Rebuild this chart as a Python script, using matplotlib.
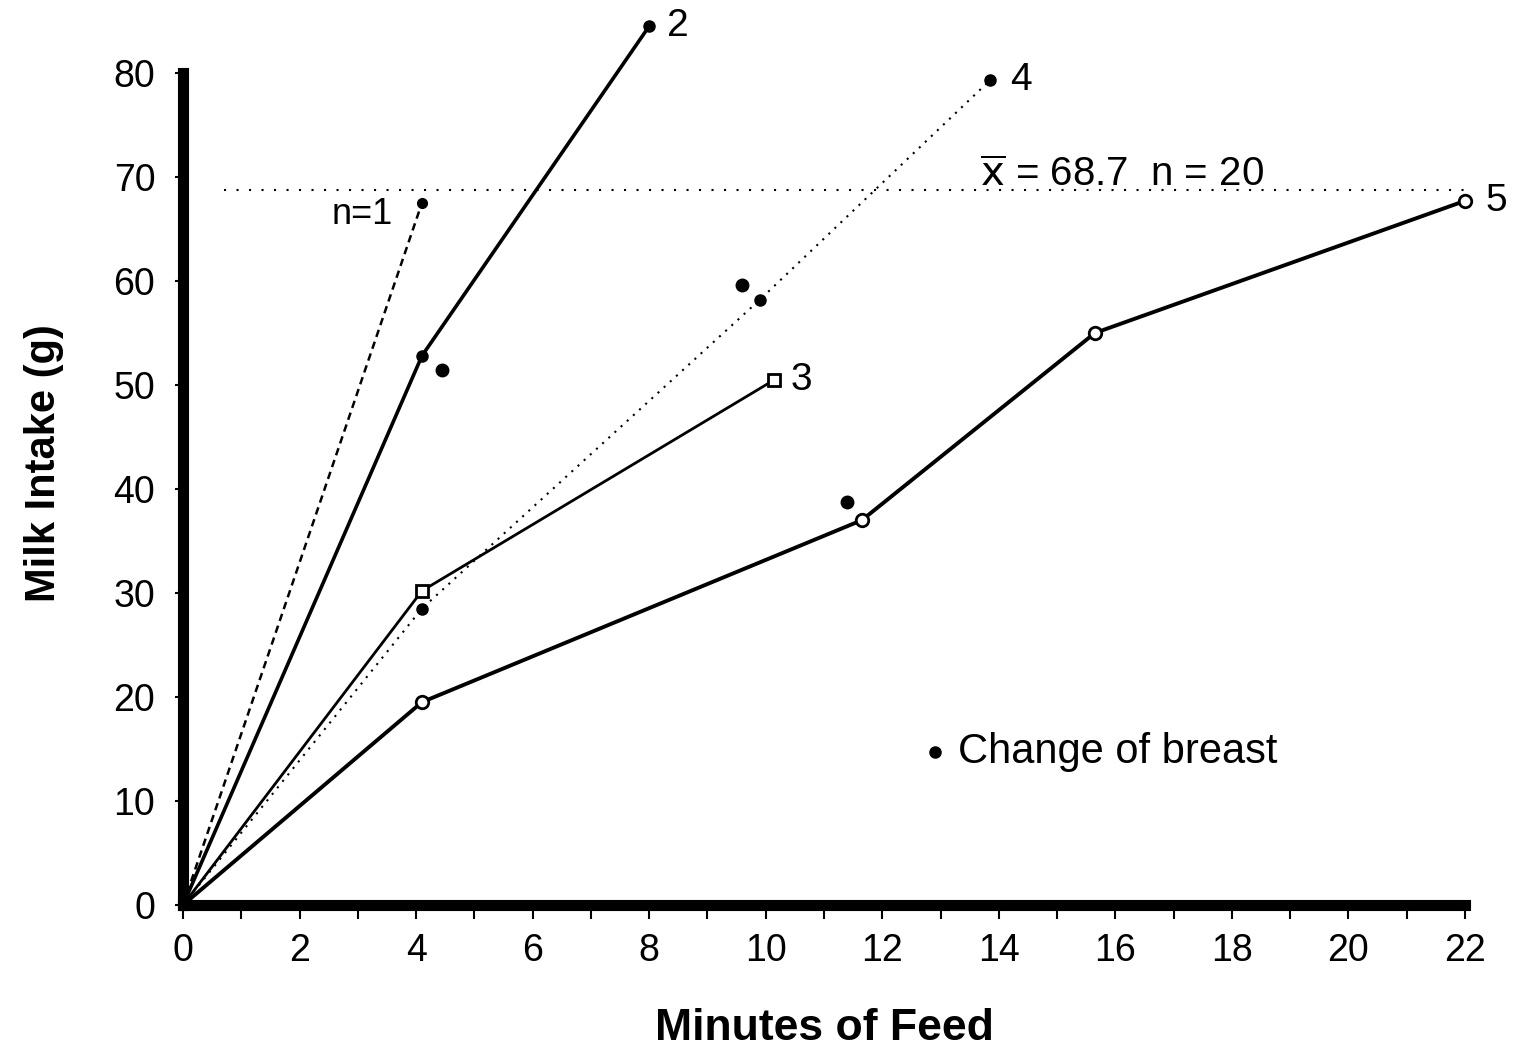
import numpy as np
import matplotlib.pyplot as plt

plt.rcParams['font.family'] = ['Liberation Sans', 'DejaVu Sans']

# Données (minutes, grammes)
t_n1 = [0, 4.1]
lait_n1 = [0, 67.5]

t_2 = [0, 4.1, 8.0]
lait_2 = [0, 52.8, 84.5]

t_3 = [0, 4.1, 10.15]
lait_3 = [0, 30.2, 50.5]

t_4 = [0, 4.1, 9.9, 13.85]
lait_4 = [0, 28.5, 58.2, 79.3]

t_5 = [0, 4.1, 11.65, 15.65, 22.0]
lait_5 = [0, 19.5, 37.0, 55.0, 67.7]

# Changements de sein (points isolés)
t_change = [4.45, 9.6, 11.4]
lait_change = [51.4, 59.6, 38.7]

moyenne = 68.7
xticks = [0, 2, 4, 6, 8, 10, 12, 14, 16, 18, 20, 22]
yticks = [0, 10, 20, 30, 40, 50, 60, 70, 80]

fig = plt.figure(figsize=(15.14, 10.53), dpi=100)
ax = fig.add_axes([0.1209, 0.1406, 0.8467, 0.8395])

# Courbes
ax.plot(t_n1, lait_n1, color='black', lw=1.8, ls=(0, (3, 2)), clip_on=False)
ax.plot(t_n1[-1], lait_n1[-1], 'o', color='black', ms=7, clip_on=False)

ax.plot(t_2, lait_2, color='black', lw=2.6, clip_on=False)
ax.plot(t_2[1:], lait_2[1:], 'o', color='black', ms=8, clip_on=False)

ax.plot(t_3, lait_3, color='black', lw=2.0, clip_on=False)
ax.plot(t_3[1:], lait_3[1:], 's', color='black', mfc='white', mew=2, ms=8, clip_on=False)

ax.plot(t_4, lait_4, color='black', lw=1.5, ls=(0, (1, 3)), clip_on=False)
ax.plot(t_4[1:], lait_4[1:], 'o', color='black', ms=8, clip_on=False)

ax.plot(t_5, lait_5, color='black', lw=2.8, clip_on=False)
ax.plot(t_5[1:], lait_5[1:], 'o', color='black', mfc='white', mew=2, ms=9, clip_on=False)

ax.plot(t_change, lait_change, 'o', color='black', ms=9, clip_on=False)

# Moyenne
ax.plot([0.7, 22], [moyenne, moyenne], color='black', lw=1.5, ls=(0, (1, 5)), clip_on=False)
ax.text(13.68, moyenne + 0.4, r'$\overline{\mathrm{x}}$ = 68.7  n = 20', fontsize=29, va='baseline')
ax.text(3.6, 66.4, 'n=1', fontsize=26, ha='right', va='center')

# Étiquettes des courbes
ax.text(t_2[-1] + 0.3, lait_2[-1], '2', fontsize=28, va='center')
ax.text(t_4[-1] + 0.35, lait_4[-1], '4', fontsize=28, va='center')
ax.text(t_3[-1] + 0.28, lait_3[-1], '3', fontsize=28, va='center')
ax.text(t_5[-1] + 0.35, lait_5[-1], '5', fontsize=28, va='center')

# Légende
ax.plot(12.9, 14.7, 'o', color='black', ms=8, clip_on=False)
ax.text(13.3, 14.7, 'Change of breast', fontsize=30, va='center')

ax.set_xlim(0, 22)
ax.set_ylim(0, 85)
ax.spines['top'].set_visible(False)
ax.spines['right'].set_visible(False)
ax.spines['left'].set_linewidth(8)
ax.spines['bottom'].set_linewidth(8)
ax.spines['left'].set_bounds(0, 80)
ax.set_xticks(xticks)
ax.set_xticks(np.arange(0, 23, 1), minor=True)
ax.set_yticks(yticks)
ax.tick_params(axis='x', which='both', direction='out', length=10, width=1.5, labelsize=27, pad=10)
ax.tick_params(axis='y', direction='out', length=6, width=1.5, labelsize=27, pad=14)

ax.set_xlabel('Minutes of Feed', fontsize=32, fontweight='bold', labelpad=28)
ax.set_ylabel('Milk Intake (g)', fontsize=30, fontweight='bold', labelpad=36)

fig.savefig('out.png', dpi=100)
